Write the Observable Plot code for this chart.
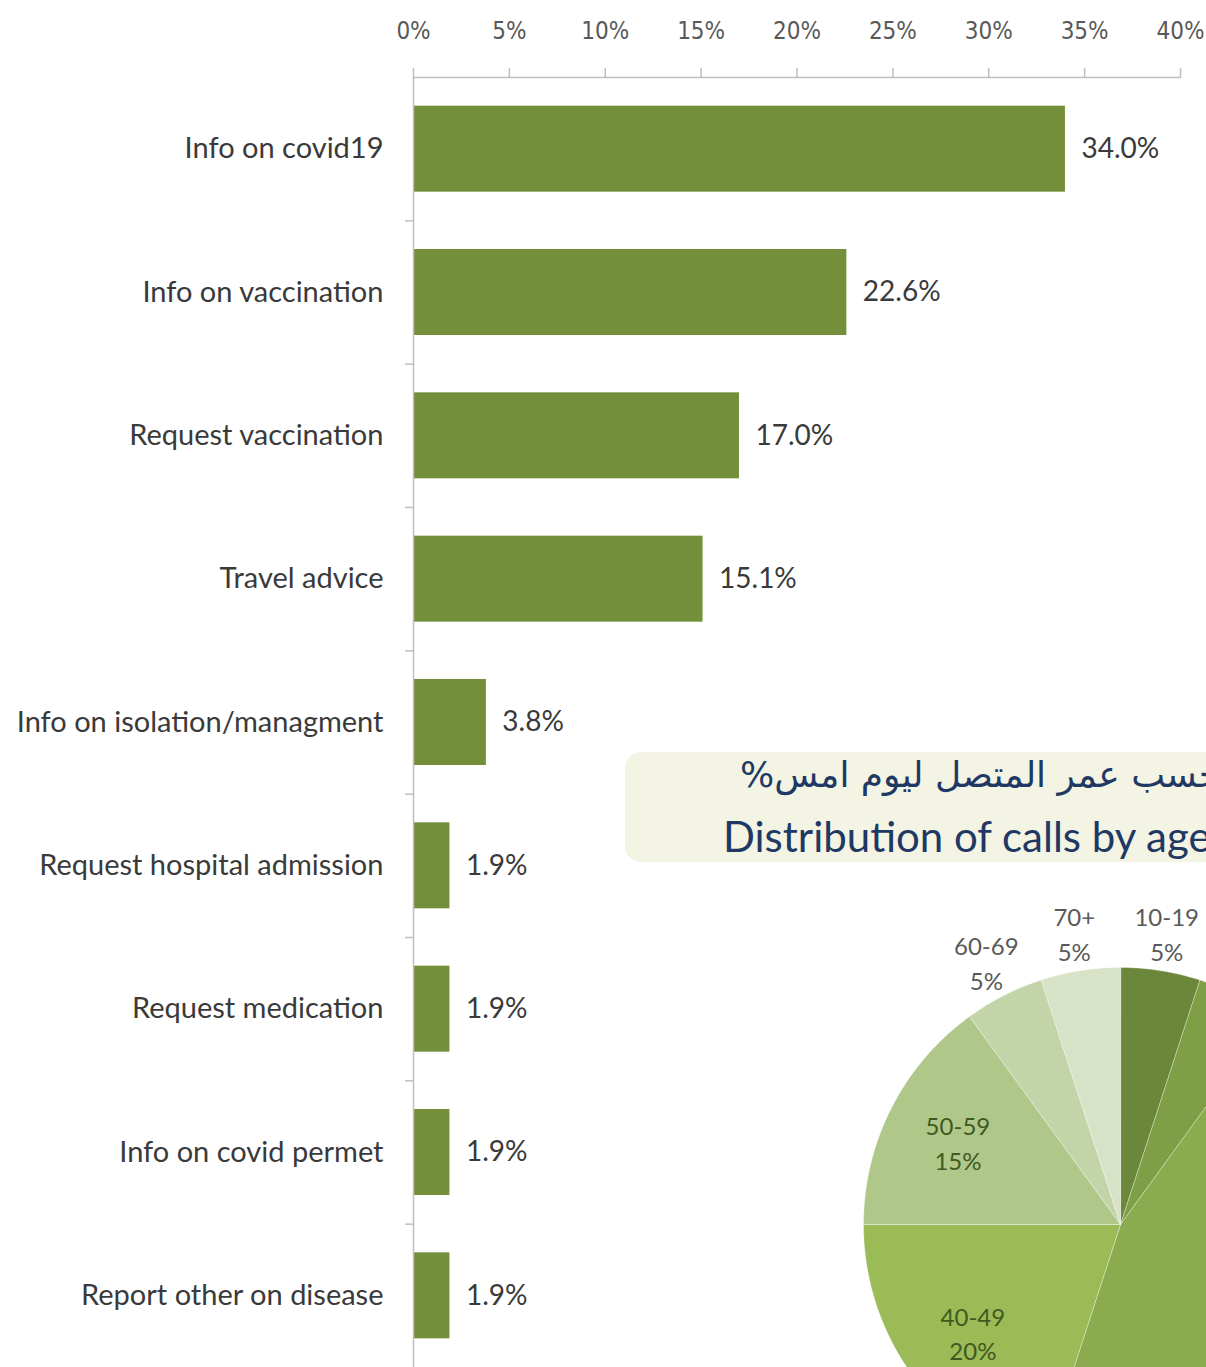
<!DOCTYPE html>
<html>
<head>
<meta charset="utf-8">
<script src="https://cdn.jsdelivr.net/npm/d3@7"></script>
<script src="https://cdn.jsdelivr.net/npm/@observablehq/plot@0.6"></script>
<style>
  body { margin: 0; background: #fff; }
  #wrap { position: relative; width: 1206px; height: 1367px; overflow: hidden; background: #fff; }
  #titlebox { position: absolute; left: 625px; top: 752px; width: 720px; height: 110px;
              border-radius: 16px; background: #f3f4e3; }
  #ar { position: absolute; left: 115px; top: 5px; white-space: nowrap; line-height: 1;
        font-family: "DejaVu Sans", sans-serif; font-size: 36px; color: #1f3864; }
  #en { position: absolute; left: 98px; top: 63px; white-space: nowrap; line-height: 1;
        font-family: Lato, "Open Sans", sans-serif; font-size: 42px; color: #1f3864; }
</style>
</head>
<body>
<div id="wrap">
  <div id="titlebox">
    <div id="ar" dir="rtl">حسب عمر المتصل ليوم امس%</div>
    <div id="en">Distribution of calls by age</div>
  </div>
</div>
<script>
// ---- Bar chart data ----
const categories = [
  "Info on covid19",
  "Info on vaccination",
  "Request vaccination",
  "Travel advice",
  "Info on isolation/managment",
  "Request hospital admission",
  "Request medication",
  "Info on covid permet",
  "Report other on disease"
];
const shares = [34.0, 22.6, 17.0, 15.1, 3.8, 1.9, 1.9, 1.9, 1.9];
const xTicks = [0, 5, 10, 15, 20, 25, 30, 35, 40];

// ---- Pie data ----
const ageGroups = ["10-19", "20-29", "30-39", "40-49", "50-59", "60-69", "70+"];
const ageShares = [5, 5, 45, 20, 15, 5, 5];

const bars = categories.map((c, i) => ({ category: c, value: shares[i], i }));
const boundaries = d3.range(0.5, categories.length - 1, 1);

const font = "Lato, 'Open Sans', sans-serif";
const narrow = "'Liberation Sans Narrow', 'DejaVu Sans Condensed', sans-serif";

const barChart = Plot.plot({
  width: 1206,
  height: 1367,
  marginTop: 77,
  marginBottom: 0,
  marginLeft: 413,
  marginRight: 26,
  x: { domain: [0, 40], label: null },
  y: { domain: [-0.5, categories.length - 0.5], reverse: true, label: null },
  marks: [
    Plot.rectX(bars, { x1: 0, x2: "value", y1: d => d.i - 0.3, y2: d => d.i + 0.3, fill: "#738f3a" }),
    Plot.ruleY([-0.5], { stroke: "#bfbfbf", strokeWidth: 1.5 }),
    Plot.ruleX([0], { stroke: "#bfbfbf", strokeWidth: 1.5 }),
    Plot.axisX({ anchor: "top", ticks: xTicks, tickFormat: () => "", tickSize: 10, stroke: "#bfbfbf", strokeWidth: 1.5, label: null }),
    Plot.axisX({ anchor: "top", ticks: xTicks, tickFormat: d => d + "%", tickSize: 0, tickPadding: 39,
                 fontSize: 24, fontFamily: narrow, color: "#595959", label: null }),
    Plot.axisY({ ticks: boundaries, tickFormat: () => "", tickSize: 8, stroke: "#bfbfbf", strokeWidth: 1.5, label: null }),
    Plot.axisY({ ticks: d3.range(categories.length), tickFormat: i => categories[i], tickSize: 0, tickPadding: 30,
                 fontSize: 29, fontFamily: font, color: "#3a3a3a", label: null }),
    Plot.text(bars, { x: "value", y: "i", text: d => d.value.toFixed(1) + "%", dx: 16, textAnchor: "start",
                      fontSize: 28, fontFamily: font, fill: "#3a3a3a" })
  ]
});

// ---- Pie ----
const pieArcs = d3.pie().sort(null).startAngle(0).endAngle(2 * Math.PI)(ageShares);
const piePoints = [];
const pieLabels = [];
pieArcs.forEach((a, k) => {
  const age = ageGroups[k];
  piePoints.push({ age, x: 0, y: 0 });
  const n = Math.max(2, Math.ceil((a.endAngle - a.startAngle) / 0.01));
  for (let j = 0; j <= n; j++) {
    const t = a.startAngle + (a.endAngle - a.startAngle) * j / n;
    piePoints.push({ age, x: Math.sin(t), y: Math.cos(t) });
  }
  const mid = (a.startAngle + a.endAngle) / 2;
  const inside = ageShares[k] >= 15;
  const r = inside ? 0.71 : 1.15;
  pieLabels.push({ age, x: r * Math.sin(mid), y: r * Math.cos(mid), inside, text: age + "\n" + ageShares[k] + "%" });
});

const k = 350 / 257;
const pie = Plot.plot({
  width: 700,
  height: 700,
  margin: 0,
  style: { background: "transparent", position: "absolute", left: "770px", top: "874px", overflow: "visible" },
  x: { domain: [-k, k], axis: null },
  y: { domain: [-k, k], axis: null },
  color: { domain: ageGroups, range: ["#6b873a", "#7e9f45", "#8aab4e", "#9bbb57", "#afc88a", "#c4d4a9", "#d8e2c6"] },
  marks: [
    Plot.line(piePoints, { x: "x", y: "y", z: "age", fill: "age", stroke: "#ffffff", strokeOpacity: 0.35, strokeWidth: 1, curve: "linear-closed" }),
    Plot.text(pieLabels, { x: "x", y: "y", text: "text", lineHeight: 1.45, fontSize: 24, fontFamily: font,
                           fill: d => d.inside ? "#3f5a1f" : "#595959" })
  ]
});

const wrap = document.getElementById("wrap");
wrap.prepend(barChart);
wrap.append(pie);
</script>
</body>
</html>
